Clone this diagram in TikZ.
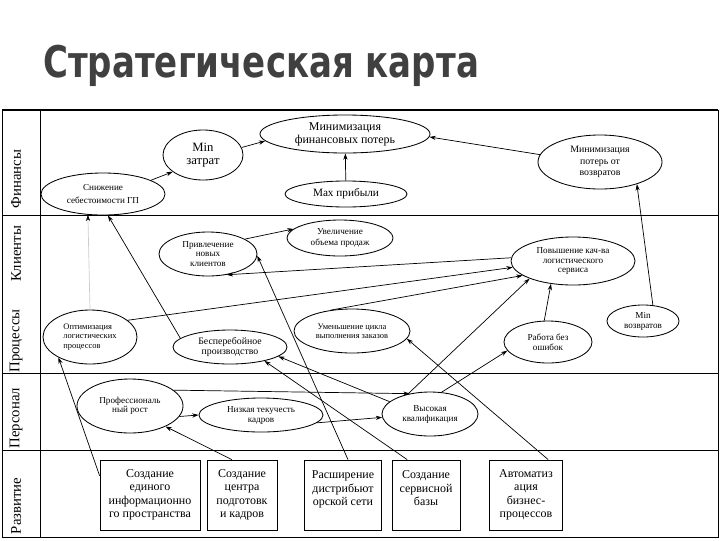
\documentclass[tikz,border=0pt]{standalone}
\usepackage{fontspec}
\setmainfont{Liberation Serif}
\newfontfamily\titlefont{DejaVu Sans}
\usepackage{graphicx}
\usetikzlibrary{arrows.meta, shapes.geometric}

\begin{document}
\begin{tikzpicture}[x=0.025cm, y=-0.025cm,
  goal/.style={ellipse, draw, line width=0.6pt, inner sep=0pt, align=center},
  task/.style={rectangle, draw, line width=0.6pt, inner sep=0pt, align=center,
    minimum height=1.75cm, font=\fontsize{8.5}{9.6}\selectfont},
  link/.style={line width=0.5pt, -{Stealth[length=4.5pt, width=3pt]}},
  rowlabel/.style={rotate=90, font=\fontsize{10.5}{12}\selectfont}]
  \useasboundingbox (0,0) rectangle (720,540);
  % title
  \node[anchor=base west, inner sep=0pt, text=black!75] (title) at (43,77)
    {\scalebox{0.78}[1]{\titlefont\bfseries\fontsize{31}{36}\selectfont Стратегическая карта}};
  % table frame
  \draw[line width=0.7pt] (2,110) -- (2,537) -- (718,537) -- (718,110);
  \draw[line width=1.6pt] (2,110) -- (718,110);
  \draw[line width=0.7pt] (40,110) -- (40,537);
  \foreach \y in {215,373,450}
    \draw[line width=0.7pt] (2,\y) -- (718,\y);
  % row labels
  \node[rowlabel] (lfin) at (16,179) {Финансы};
  \node[rowlabel] (lcli) at (16,254) {Клиенты};
  \node[rowlabel] (lproc) at (16,341) {Процессы};
  \node[rowlabel] (lpers) at (16,418) {Персонал};
  \node[rowlabel] (ldev) at (16,506) {Развитие};
  % finances
  \node[goal, minimum width=4.25cm, minimum height=0.95cm, font=\fontsize{8.5}{9.2}\selectfont] (minfin) at (345,134) {Минимизация\\финансовых потерь};
  \node[goal, minimum width=2cm, minimum height=1.25cm, font=\fontsize{9}{8.8}\selectfont] (minzat) at (203,155) {Min\\затрат};
  \node[goal, minimum width=3.1cm, minimum height=1.05cm, font=\fontsize{6.5}{9}\selectfont] (snizh) at (103,194) {Снижение\\себестоимости ГП};
  \node[goal, minimum width=3.05cm, minimum height=0.65cm, font=\fontsize{8}{9}\selectfont] (maxprib) at (346,194) {Max прибыли};
  \node[goal, minimum width=3.1cm, minimum height=1.35cm, font=\fontsize{7}{8}\selectfont] (minloss) at (600,162) {Минимизация\\потерь от\\возвратов};
  % clients
  \node[goal, minimum width=2.45cm, minimum height=1.1cm, font=\fontsize{6.5}{6.8}\selectfont] (privl) at (208,254) {Привлечение\\новых\\клиентов};
  \node[goal, minimum width=2.65cm, minimum height=0.9cm, font=\fontsize{6.5}{7.2}\selectfont] (uvel) at (340,238) {Увеличение\\объема продаж};
  \node[goal, minimum width=3.1cm, minimum height=1.2cm, font=\fontsize{6.5}{6.8}\selectfont] (povysh) at (573,261) {Повышение кач-ва\\логистического\\сервиса};
  \node[goal, minimum width=1.8cm, minimum height=0.8cm, font=\fontsize{6.5}{7.1}\selectfont] (minvoz) at (643,321) {Min\\возвратов};
  % processes
  \node[goal, align=left, minimum width=2.35cm, minimum height=1.35cm, font=\fontsize{6}{6.8}\selectfont] (optim) at (90,337) {Оптимизация\\логистических\\процессов};
  \node[goal, minimum width=2.85cm, minimum height=0.85cm, font=\fontsize{7}{7.5}\selectfont] (besp) at (230,347) {Бесперебойное\\производство};
  \node[goal, minimum width=2.9cm, minimum height=1.1cm, font=\fontsize{6}{6.6}\selectfont] (umensh) at (352,331) {Уменьшение цикла\\выполнения заказов};
  \node[goal, minimum width=2.2cm, minimum height=1.05cm, font=\fontsize{6.5}{7.3}\selectfont] (rabota) at (548,342) {Работа без\\ошибок};
  % staff
  \node[goal, minimum width=2.65cm, minimum height=1.35cm, font=\fontsize{6.5}{6.5}\selectfont] (prof) at (130,406) {Профессиональ\\ный рост};
  \node[goal, minimum width=3.1cm, minimum height=0.85cm, font=\fontsize{6.5}{7.1}\selectfont] (nizk) at (261,415) {Низкая текучесть\\кадров};
  \node[goal, minimum width=2.4cm, minimum height=1.1cm, font=\fontsize{6.5}{7.1}\selectfont] (vysok) at (430,414) {Высокая\\квалификация};
  % development
  \node[task, minimum width=2.5cm] (edin) at (150,495) {Создание\\единого\\информационно\\го пространства};
  \node[task, minimum width=1.75cm] (centr) at (242,495) {Создание\\центра\\подготовк\\и кадров};
  \node[task, minimum width=1.925cm] (rassh) at (343,495) {Расширение\\дистрибьют\\орской сети\\\mbox{}};
  \node[task, minimum width=1.7cm] (serv) at (426,495) {Создание\\сервисной\\базы\\\mbox{}};
  \node[task, minimum width=1.825cm] (avtom) at (526,495) {Автоматиз\\ация\\бизнес-\\процессов};
  % links
  \draw[link] (snizh.16) -- (minzat.209);
  \draw[link] (minzat.11) -- (minfin.185);
  \draw[link] (maxprib) -- (minfin);
  \draw[link] (minloss.173) -- (minfin.358);
  \draw[link] (minvoz.58) -- (minloss.329);
  \draw[link] (privl.22) -- (uvel.169);
  \draw[link] (povysh.177) -- (privl.312);
  \draw[link] (optim.24) -- (povysh.186);
  \draw[link] (umensh.136) -- (povysh.196);
  \draw[link] (vysok.138) -- (povysh.202);
  \draw[link] (rabota.100) -- (povysh.226);
  \draw[link] (rassh.82) -- (privl.358);
  \draw[link] (besp.170) -- (snizh.283);
  \draw[line width=0.5pt, draw=black!20, -{Stealth[length=4.5pt, width=3pt, color=black]}] (optim.north) -- (snizh.234);
  \draw[link] (edin.159) -- (optim.213);
  \draw[link] (centr.106) -- (prof.330);
  \draw[link] (prof.20) -- (vysok.135);
  \draw[link] (prof.-12) -- (nizk.west);
  \draw[link] (nizk.-8) -- (vysok.184);
  \draw[link] (vysok.163) -- (besp.349);
  \draw[link] (serv.118) -- (besp.338);
  \draw[link] (avtom.58) -- (umensh.352);
  \draw[link] (vysok.62) -- (rabota.192);
\end{tikzpicture}
\end{document}
